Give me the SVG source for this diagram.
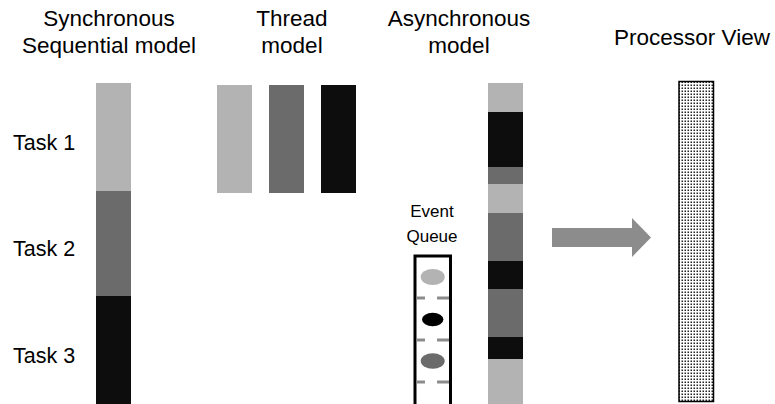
<svg xmlns="http://www.w3.org/2000/svg" width="775" height="404" viewBox="0 0 775 404">
<style>
text{font-family:"Liberation Sans",Arial,sans-serif;fill:#000}
.t{font-size:22.5px;text-anchor:middle}
.k{font-size:21.5px}
.e{font-size:17px;text-anchor:middle}
.L{fill:#b3b3b3}.M{fill:#6b6b6b}.D{fill:#0d0d0d}
.dash{stroke:#8c8c8c;stroke-width:3}
</style>
<defs>
<pattern id="dots" width="3" height="3" patternUnits="userSpaceOnUse">
<rect width="3" height="3" fill="#fff"/>
<rect x="0.5" y="0.5" width="1.5" height="1.5" fill="#222"/>
</pattern>
</defs>
<rect width="775" height="404" fill="#fff"/>
<g id="titles">
<text class="t" x="109" y="26">Synchronous</text>
<text class="t" x="109" y="53">Sequential model</text>
<text class="t" x="292" y="26">Thread</text>
<text class="t" x="292" y="53">model</text>
<text class="t" x="459" y="26">Asynchronous</text>
<text class="t" x="459" y="53">model</text>
<text class="t" x="692" y="45">Processor View</text>
</g>
<g id="task-labels">
<text class="k" x="13" y="150">Task 1</text>
<text class="k" x="13" y="256">Task 2</text>
<text class="k" x="13" y="363">Task 3</text>
</g>
<g id="sync-model">
<rect class="L" x="96" y="83" width="35" height="108"/>
<rect class="M" x="96" y="191" width="35" height="105"/>
<rect class="D" x="96" y="296" width="35" height="108"/>
</g>
<g id="thread-model">
<rect class="L" x="217" y="85" width="35" height="108"/>
<rect class="M" x="269" y="85" width="35" height="108"/>
<rect class="D" x="321" y="85" width="35" height="108"/>
</g>
<g id="event-queue">
<text class="e" x="432" y="217">Event</text>
<text class="e" x="432" y="242">Queue</text>
<path d="M415 404V256H450.5V404" fill="none" stroke="#000" stroke-width="3"/>
<ellipse class="L" cx="432.7" cy="277" rx="12" ry="8"/>
<ellipse cx="432.7" cy="319.5" rx="10.7" ry="6.7" fill="#000"/>
<ellipse class="M" cx="432.7" cy="361" rx="12" ry="7.7"/>
<path class="dash" d="M416.5 298H425M437 298H449M416.5 340H425M437 340H449M416.5 382H425M437 382H449"/>
</g>
<g id="async-model">
<rect class="L" x="488" y="83" width="35" height="29"/>
<rect class="D" x="488" y="112" width="35" height="55"/>
<rect class="M" x="488" y="167" width="35" height="17"/>
<rect class="L" x="488" y="184" width="35" height="29"/>
<rect class="M" x="488" y="213" width="35" height="48"/>
<rect class="D" x="488" y="261" width="35" height="28"/>
<rect class="M" x="488" y="289" width="35" height="48"/>
<rect class="D" x="488" y="337" width="35" height="22"/>
<rect class="L" x="488" y="359" width="35" height="45"/>
</g>
<g id="connectors">
<polygon points="552,228 632,228 632,218 651,237.5 632,257 632,247 552,247" fill="#8c8c8c"/>
</g>
<g id="processor-view">
<rect x="679" y="81.5" width="34.5" height="320" fill="url(#dots)" stroke="#000" stroke-width="1.5"/>
</g>
</svg>
